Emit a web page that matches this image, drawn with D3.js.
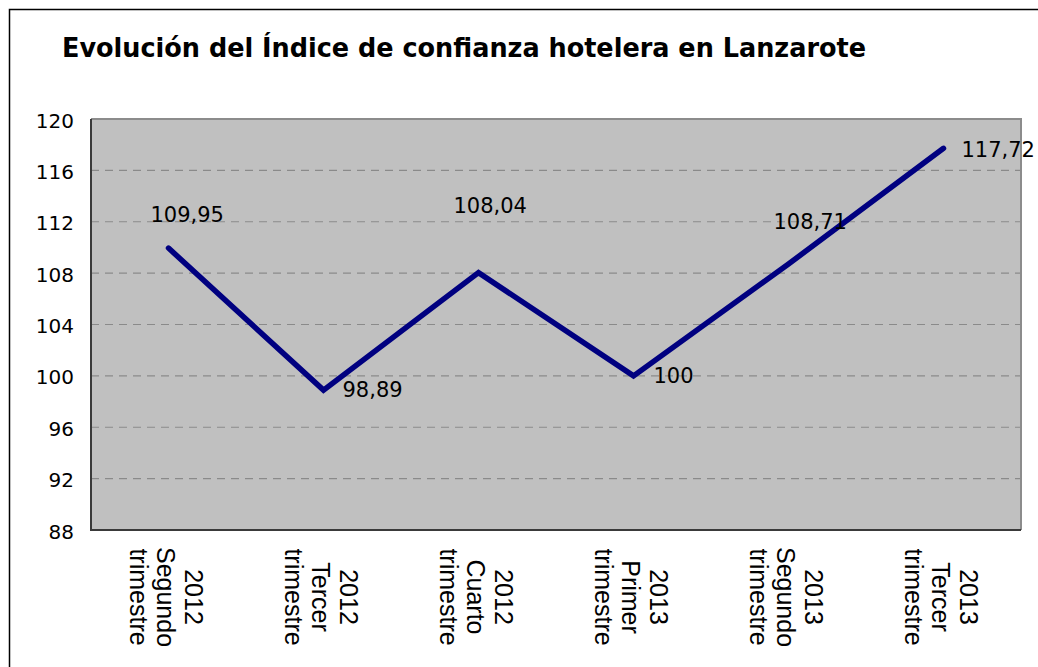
<!DOCTYPE html>
<html>
<head>
<meta charset="utf-8">
<script src="https://cdn.jsdelivr.net/npm/d3@7"></script>
<style>
    body { margin: 0; background: #fff; }
    svg { display: block; }
</style>
</head>
<body>
<div id="chart"></div>
<script>
/** Datos del gráfico */
var anios = ["2012", "2012", "2012", "2013", "2013", "2013"];
var trimestres = ["Segundo", "Tercer", "Cuarto", "Primer", "Segundo", "Tercer"];
var valores = [109.95, 98.89, 108.04, 100, 108.71, 117.72];
var etiquetas = ["109,95", "98,89", "108,04", "100", "108,71", "117,72"];
var ticksY = [88, 92, 96, 100, 104, 108, 112, 116, 120];

// desplazamiento de cada etiqueta respecto a su punto (colocadas a mano en el original)
var desplazEtiquetas = [[-18, -26], [19, 7], [-25, -60], [20, 7], [-15, -35], [18, 9]];

var width = 1038,
    height = 667;

var margin = { left: 91, top: 119, right: 17, bottom: 137 };

var svg = d3
    .select("#chart")
    .append("svg")
    .attr("width", width)
    .attr("height", height);

// marco exterior
svg.append("rect")
    .attr("x", 9.5)
    .attr("y", 9.5)
    .attr("width", width + 20)
    .attr("height", height + 20)
    .attr("fill", "#fff")
    .attr("stroke", "#000")
    .attr("stroke-width", 1.5);

svg.append("text")
    .attr("x", 62)
    .attr("y", 57)
    .attr("font-family", "DejaVu Sans")
    .attr("font-weight", "bold")
    .attr("font-size", 26)
    .attr("textLength", 804)
    .attr("lengthAdjust", "spacingAndGlyphs")
    .attr("fill", "#000")
    .text("Evolución del Índice de confianza hotelera en Lanzarote");

var x = d3
    .scaleBand()
    .domain(d3.range(valores.length))
    .range([margin.left, width - margin.right]);

var y = d3
    .scaleLinear()
    .domain([88, 120])
    .range([height - margin.bottom, margin.top]);

// área del gráfico
svg.append("rect")
    .attr("x", x.range()[0])
    .attr("y", y(120))
    .attr("width", x.range()[1] - x.range()[0])
    .attr("height", y(88) - y(120))
    .attr("fill", "#c0c0c0");

// líneas de división
svg.append("g")
    .selectAll("line")
    .data(ticksY.filter(function (d) { return d > 88 && d < 120; }))
    .enter()
    .append("line")
    .attr("x1", x.range()[0])
    .attr("x2", x.range()[1])
    .attr("y1", function (d) { return y(d); })
    .attr("y2", function (d) { return y(d); })
    .attr("stroke", "#8a8a8a")
    .attr("stroke-width", 1.2)
    .attr("stroke-dasharray", "8,6");

// bordes del área
svg.append("path")
    .attr("d", "M" + x.range()[0] + "," + y(120) + "H" + x.range()[1] + "V" + y(88))
    .attr("fill", "none")
    .attr("stroke", "#8c8c8c")
    .attr("stroke-width", 2);
svg.append("path")
    .attr("d", "M" + x.range()[0] + "," + y(120) + "V" + y(88) + "H" + x.range()[1])
    .attr("fill", "none")
    .attr("stroke", "#3a3a3a")
    .attr("stroke-width", 2);

// eje Y
var ejeY = svg.append("g")
    .attr("transform", "translate(" + x.range()[0] + ",0)")
    .call(d3.axisLeft(y).tickValues(ticksY).tickSize(0).tickPadding(17));
ejeY.select(".domain").remove();
ejeY.selectAll("text")
    .attr("font-family", "DejaVu Sans")
    .attr("font-size", 20)
    .attr("fill", "#000")
    .attr("dy", "0.4em");

// etiquetas de categoría, giradas
var cat = svg.append("g")
    .selectAll("g")
    .data(valores)
    .enter()
    .append("g")
    .attr("transform", function (d, i) {
        return "translate(" + (x(i) + x.bandwidth() / 2) + ",597) rotate(90)";
    });

cat.each(function (d, i) {
    var lineas = [anios[i], trimestres[i], "trimestre"];
    d3.select(this)
        .selectAll("text")
        .data(lineas)
        .enter()
        .append("text")
        .attr("x", 0)
        .attr("y", function (t, j) { return -16 + j * 27.5; })
        .attr("text-anchor", "middle")
        .attr("font-family", "Liberation Sans")
        .attr("font-size", 25)
        .attr("fill", "#000")
        .text(function (t) { return t; });
});

// serie
var linea = d3
    .line()
    .x(function (d, i) { return x(i) + x.bandwidth() / 2; })
    .y(function (d) { return y(d); });

svg.append("path")
    .datum(valores)
    .attr("d", linea)
    .attr("fill", "none")
    .attr("stroke", "#000080")
    .attr("stroke-width", 5.5)
    .attr("stroke-linecap", "round")
    .attr("stroke-linejoin", "miter");

// etiquetas de datos
svg.append("g")
    .selectAll("text")
    .data(valores)
    .enter()
    .append("text")
    .attr("x", function (d, i) { return x(i) + x.bandwidth() / 2 + desplazEtiquetas[i][0]; })
    .attr("y", function (d, i) { return y(d) + desplazEtiquetas[i][1]; })
    .attr("font-family", "DejaVu Sans")
    .attr("font-size", 21)
    .attr("fill", "#000")
    .text(function (d, i) { return etiquetas[i]; });
</script>
</body>
</html>
